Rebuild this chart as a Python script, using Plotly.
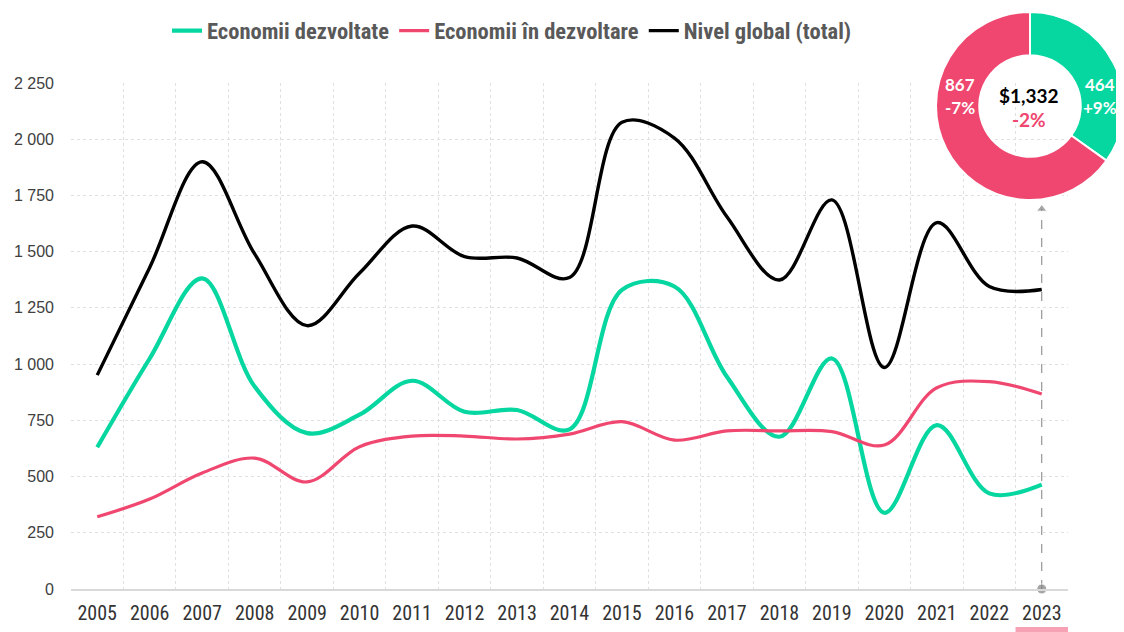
import plotly.graph_objects as go

years = [str(y) for y in range(2005, 2024)]
developed = [630, 1025, 1381, 900, 693, 775, 926, 788, 796, 710, 1330, 1345, 944, 677, 1025, 339, 729, 425, 464]
developing = [321, 400, 516, 582, 476, 633, 680, 680, 667, 689, 744, 662, 703, 703, 700, 640, 895, 922, 867]
total = [951, 1430, 1900, 1490, 1171, 1405, 1614, 1478, 1472, 1385, 2075, 2005, 1655, 1374, 1730, 985, 1629, 1345, 1332]

series_names = ["Economii dezvoltate", "Economii în dezvoltare", "Nivel global (total)"]
colors = ["#06D6A0", "#EF476F", "#000000"]
widths = [4.2, 3.2, 3.4]

y_ticks = list(range(0, 2251, 250))
y_ticktext = [f"{v:,}".replace(",", " ") for v in y_ticks]

donut_values = [464, 867]
donut_labels = ["Economii dezvoltate", "Economii în dezvoltare"]
donut_change = ["+9%", "-7%"]
total_label = "$1,332"
total_change = "-2%"
arrow_top = 1690

# page has an 8px body margin; figure coordinates = page coordinates - 8
OFF = 8
W, H = 1124 - OFF, 632 - OFF
xi = list(range(len(years)))


def px(x):
    return (x - OFF) / W


def py(y):
    return 1 - (y - OFF) / H


fig = go.Figure()
for name, vals, col, w in zip(series_names, [developed, developing, total], colors, widths):
    fig.add_trace(go.Scatter(
        x=xi, y=vals, name=name, mode="lines",
        line=dict(color=col, width=w, shape="spline", smoothing=1.0),
        hoverinfo="x+y+name",
    ))

# pointer from last year up to the donut
fig.add_trace(go.Scatter(
    x=[xi[-1], xi[-1]], y=[0, arrow_top], mode="lines+markers",
    line=dict(color="#808080", width=1, dash="dash"),
    marker=dict(symbol=["circle", "triangle-up"], size=[10, 9], color="#808080"),
    showlegend=False, hoverinfo="skip", cliponaxis=False,
))

# donut (page coords)
cx, cy, R = 1030, 106, 94
fig.add_trace(go.Pie(
    values=donut_values, labels=donut_labels, hole=0.54, sort=False,
    direction="clockwise", rotation=0, textinfo="none",
    marker=dict(colors=colors[:2], line=dict(color="white", width=2)),
    domain=dict(x=[px(cx - R), min(1.0, px(cx + R))], y=[py(cy + R), py(cy - R)]),
    showlegend=False, hoverinfo="label+value",
))

ann = []
lab_font = dict(family="Lato, sans-serif", size=17, color="white")
ann.append(dict(x=px(cx + 70), y=py(84), text=f"<b>{donut_values[0]}</b>", font=lab_font))
ann.append(dict(x=px(cx + 70), y=py(108), text=f"<b>{donut_change[0]}</b>", font=lab_font))
ann.append(dict(x=px(cx - 70), y=py(84), text=f"<b>{donut_values[1]}</b>", font=lab_font))
ann.append(dict(x=px(cx - 70), y=py(108), text=f"<b>{donut_change[1]}</b>", font=lab_font))
ann.append(dict(x=px(cx - 1), y=py(96), text=f"<b>{total_label}</b>",
                font=dict(family="Lato, sans-serif", size=19, color="black")))
ann.append(dict(x=px(cx - 1), y=py(119), text=f"<b>{total_change}</b>",
                font=dict(family="Lato, sans-serif", size=19, color=colors[1])))
for a in ann:
    a.update(xref="paper", yref="paper", showarrow=False, xanchor="center", yanchor="middle")

cond = "Roboto Condensed, Liberation Sans Narrow, sans-serif"

fig.update_layout(
    width=W, height=H,
    margin=dict(l=0, r=0, t=0, b=0),
    plot_bgcolor="white", paper_bgcolor="white",
    annotations=ann,
    legend=dict(orientation="h", x=px(512), xanchor="center", y=py(31), yanchor="middle",
                font=dict(family=cond, size=22.5, color="#595959", weight="bold"),
                itemwidth=30, bgcolor="rgba(0,0,0,0)"),
    shapes=[dict(type="rect", xref="x", yref="paper", x0=xi[-1] - 0.5, x1=xi[-1] + 0.5,
                 y0=0, y1=5 / H, fillcolor="#F7A1B5", line=dict(width=0), layer="above")],
    xaxis=dict(
        domain=[px(71), px(1068)], range=[-0.5, len(years) - 0.5],
        tickvals=xi, ticktext=years, showgrid=False, zeroline=False,
        showline=True, linecolor="#D9D9D9", linewidth=1.5,
        tickfont=dict(family=cond, size=20, color="#333333"),
        ticks="", ticklabelstandoff=5, automargin=False,
        minor=dict(tickvals=[i - 0.5 for i in range(len(years) + 1)], showgrid=True,
                   gridcolor="#E0E0E0", griddash="dot", gridwidth=1, ticks=""),
    ),
    yaxis=dict(
        domain=[py(589), py(83)], range=[0, 2250],
        tickvals=y_ticks, ticktext=y_ticktext, showgrid=True,
        gridcolor="#E0E0E0", griddash="dot", gridwidth=1, zeroline=False,
        tickfont=dict(family="Liberation Sans, Arial, sans-serif", size=16, color="#404040"),
        ticklabelstandoff=16, automargin=False,
    ),
)

fig.write_html("out.html")
